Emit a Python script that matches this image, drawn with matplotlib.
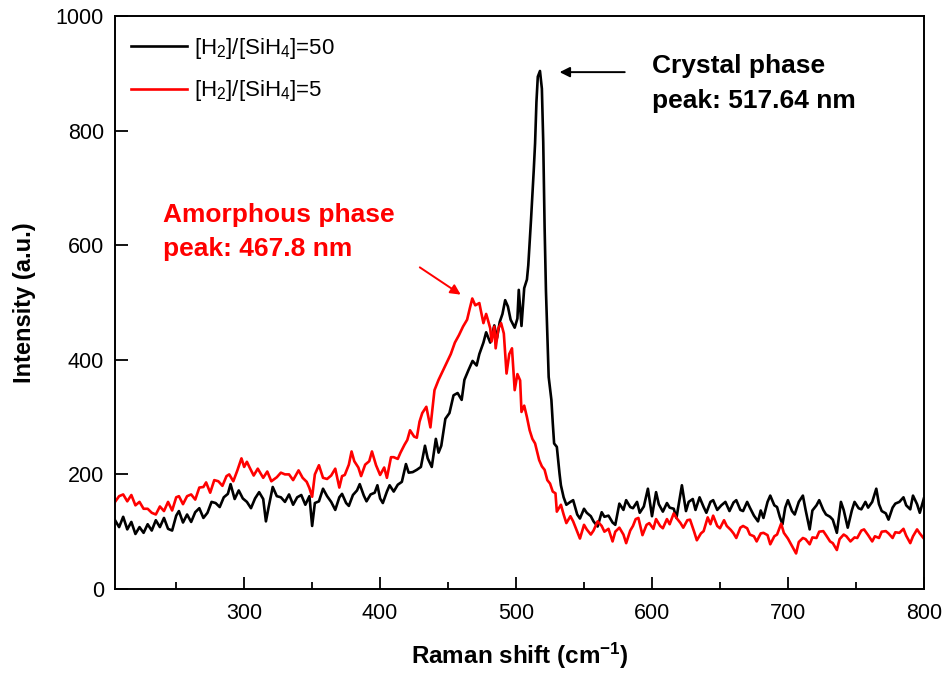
import numpy as np
from matplotlib import pyplot as plt

plt.rcParams['font.family'] = ['Liberation Sans', 'DejaVu Sans']
plt.rcParams['mathtext.fontset'] = 'custom'
plt.rcParams['mathtext.rm'] = 'Liberation Sans'
plt.rcParams['mathtext.it'] = 'Liberation Sans'
plt.rcParams['mathtext.bf'] = 'Liberation Sans:bold'

# Espectro Raman, [H2]/[SiH4]=50
x_50 = [205, 208, 211, 214, 217, 220, 223, 226, 229, 232, 235, 238, 241, 244, 247, 250, 252, 255, 258, 261,
        264, 267, 270, 273, 276, 279, 282, 285, 288, 290, 293, 296, 299, 302, 305, 308, 311, 314, 316, 318,
        321, 324, 327, 330, 333, 336, 339, 342, 345, 348, 350, 352, 355, 358, 361, 364, 367, 370, 372, 375,
        377, 380, 383, 385, 388, 390, 393, 396, 398, 400, 402, 405, 407, 410, 413, 416, 419, 421, 424, 427,
        430, 433, 435, 438, 441, 443, 445, 448, 451, 454, 457, 460, 462, 465, 468, 471, 473, 476, 478, 481,
        484, 486, 488, 490, 492, 494, 496, 499, 501, 502, 504, 506, 508, 509, 511, 513, 514, 515, 516, 517.6,
        519, 520, 521, 522, 524, 526, 527, 528, 530, 532, 533, 535, 537, 540, 542, 545, 547, 550, 552, 555,
        557, 560, 563, 565, 568, 571, 573, 576, 579, 581, 584, 586, 589, 591, 594, 597, 600, 603, 605, 608,
        611, 613, 616, 618, 620, 622, 625, 627, 630, 632, 635, 638, 640, 643, 645, 648, 651, 654, 657, 660,
        662, 665, 667, 670, 672, 675, 678, 680, 682, 685, 687, 690, 692, 694, 696, 698, 700, 703, 705, 708,
        711, 713, 716, 718, 721, 723, 726, 728, 731, 733, 736, 739, 741, 744, 747, 749, 752, 754, 757, 759,
        762, 765, 767, 769, 772, 774, 777, 779, 782, 785, 787, 790, 792, 795, 797, 800]
y_50 = [120, 108, 126, 104, 117, 96, 108, 98, 113, 102, 120, 108, 124, 105, 102, 128, 136, 116, 130, 117,
        134, 141, 124, 133, 152, 150, 143, 160, 166, 183, 157, 172, 158, 152, 141, 158, 169, 157, 118, 143,
        178, 162, 160, 152, 165, 147, 160, 164, 147, 162, 110, 150, 153, 175, 162, 152, 138, 160, 166, 150,
        145, 164, 172, 183, 163, 153, 165, 168, 181, 158, 150, 170, 181, 170, 182, 187, 218, 203, 204, 208,
        213, 250, 228, 213, 262, 238, 250, 297, 307, 338, 342, 330, 365, 382, 398, 390, 410, 430, 448, 430,
        460, 438, 466, 480, 504, 493, 470, 456, 472, 522, 459, 525, 540, 565, 644, 730, 778, 850, 894, 904,
        873, 780, 632, 520, 370, 330, 290, 254, 248, 201, 181, 160, 147, 152, 155, 130, 123, 140, 133, 127,
        118, 109, 134, 126, 128, 116, 112, 149, 138, 155, 143, 141, 152, 133, 144, 175, 127, 169, 148, 135,
        150, 142, 140, 124, 152, 181, 136, 152, 157, 138, 160, 143, 133, 152, 155, 138, 146, 152, 136, 151,
        155, 138, 136, 152, 142, 128, 118, 137, 124, 152, 163, 146, 143, 126, 113, 142, 155, 136, 130, 152,
        163, 138, 104, 137, 146, 155, 138, 130, 126, 121, 98, 152, 138, 107, 137, 152, 141, 139, 152, 142,
        152, 175, 148, 136, 132, 121, 142, 149, 152, 160, 146, 139, 163, 148, 133, 158]

# Espectro Raman, [H2]/[SiH4]=5
x_5 = [205, 208, 211, 214, 217, 220, 223, 226, 229, 232, 235, 238, 241, 244, 247, 250, 252, 255, 258, 261,
       264, 267, 270, 272, 275, 278, 281, 284, 287, 289, 292, 295, 298, 300, 302, 304, 307, 310, 314, 317,
       320, 324, 327, 330, 333, 336, 340, 343, 346, 348, 350, 352, 355, 358, 361, 364, 367, 370, 372, 374,
       377, 379, 381, 384, 386, 389, 392, 394, 397, 400, 403, 405, 408, 410, 413, 415, 418, 420, 422, 425,
       427, 429, 431, 434, 437, 440, 443, 446, 449, 452, 455, 458, 461, 464, 466, 467.8, 470, 473, 474, 476,
       478, 479, 481, 482, 484, 485, 487, 489, 491, 493, 495, 497, 499, 501, 503, 504, 506, 508, 510, 512,
       514, 516, 517, 519, 521, 523, 525, 527, 529, 530, 532, 533, 535, 537, 540, 542, 545, 547, 550, 552,
       555, 557, 560, 563, 565, 568, 571, 573, 576, 579, 581, 584, 586, 588, 590, 593, 596, 598, 601, 603,
       606, 608, 611, 613, 616, 618, 621, 623, 626, 628, 631, 633, 636, 638, 641, 643, 645, 648, 650, 653,
       655, 658, 660, 662, 665, 667, 670, 672, 675, 677, 680, 682, 685, 687, 690, 692, 695, 697, 700, 703,
       706, 708, 711, 713, 716, 718, 721, 723, 726, 728, 731, 733, 736, 738, 741, 743, 746, 749, 751, 754,
       756, 759, 762, 764, 767, 769, 772, 774, 777, 779, 782, 785, 787, 790, 792, 795, 797, 800]
y_5 = [152, 162, 165, 153, 164, 146, 152, 140, 140, 133, 130, 144, 136, 152, 137, 160, 162, 148, 162, 165,
       156, 177, 178, 186, 168, 190, 188, 180, 197, 200, 188, 207, 228, 213, 222, 212, 198, 210, 194, 205,
       188, 195, 203, 200, 200, 190, 207, 194, 187, 176, 161, 200, 216, 194, 192, 198, 210, 177, 197, 199,
       217, 240, 223, 212, 197, 217, 223, 240, 216, 199, 212, 194, 230, 230, 227, 238, 252, 260, 277, 266,
       264, 292, 307, 318, 282, 347, 365, 380, 395, 410, 430, 443, 458, 470, 490, 507, 495, 499, 487, 464,
       480, 472, 455, 432, 458, 420, 455, 464, 446, 376, 410, 420, 347, 375, 364, 309, 320, 300, 277, 262,
       254, 235, 225, 214, 208, 190, 184, 170, 167, 135, 143, 147, 130, 115, 127, 118, 100, 88, 112, 104,
       95, 102, 118, 110, 100, 105, 83, 100, 107, 95, 80, 102, 110, 122, 124, 94, 112, 115, 105, 122,
       110, 106, 122, 113, 132, 124, 115, 107, 120, 121, 100, 85, 97, 101, 125, 113, 128, 110, 106, 120,
       110, 103, 97, 89, 107, 110, 106, 95, 92, 83, 97, 98, 94, 78, 92, 95, 114, 98, 88, 75,
       62, 82, 89, 87, 78, 90, 89, 100, 101, 94, 83, 80, 68, 87, 95, 92, 83, 90, 89, 102,
       104, 94, 83, 92, 89, 100, 101, 97, 89, 99, 98, 105, 93, 80, 92, 104, 97, 88]

fig = plt.figure(figsize=(9.46, 6.77), dpi=100)
ax = fig.add_axes([0.1216, 0.13, 0.855, 0.8464])

ax.plot(x_50, y_50, color='black', lw=1.9, label=r'[H$_2$]/[SiH$_4$]=50')
ax.plot(x_5, y_5, color='#ff0000', lw=1.9, label=r'[H$_2$]/[SiH$_4$]=5')

ax.set_xlim(205, 800)
ax.set_ylim(0, 1000)
ax.set_xticks([300, 400, 500, 600, 700, 800])
ax.set_xticks(np.arange(250, 800, 100), minor=True)
ax.set_yticks([0, 200, 400, 600, 800, 1000])
ax.tick_params(which='both', direction='in', width=1.3, labelsize=15.5)
ax.tick_params(axis='x', pad=10)
ax.tick_params(axis='y', pad=8)
ax.tick_params(which='major', length=9)
ax.tick_params(which='minor', length=5)
for s in ax.spines.values():
    s.set_linewidth(1.4)

ax.set_xlabel(r'Raman shift (cm$^{\mathbf{-1}}$)', fontsize=17.5, fontweight='bold', labelpad=12)
ax.set_ylabel('Intensity (a.u.)', fontsize=17, fontweight='bold', labelpad=14)

ax.legend(loc='upper left', frameon=False, fontsize=16, handlelength=2.55, handletextpad=0.3,
          labelspacing=0.8, borderaxespad=0.3, bbox_to_anchor=(0.0, 0.993))

# Anotações dos picos
ax.annotate('', xy=(530, 902), xytext=(582, 902),
            arrowprops=dict(arrowstyle='-|>', color='black', lw=1.4, mutation_scale=15))
ax.text(600, 933, 'Crystal phase\npeak: 517.64 nm', fontsize=19, fontweight='bold',
        va='top', ha='left', linespacing=1.55)

ax.annotate('', xy=(461, 511), xytext=(427.5, 564),
            arrowprops=dict(arrowstyle='-|>', color='#ff0000', lw=1.4, mutation_scale=15))
ax.text(240, 674, 'Amorphous phase\npeak: 467.8 nm', fontsize=19, fontweight='bold',
        color='#ff0000', va='top', ha='left', linespacing=1.55)

fig.savefig('out.png', dpi=100)
